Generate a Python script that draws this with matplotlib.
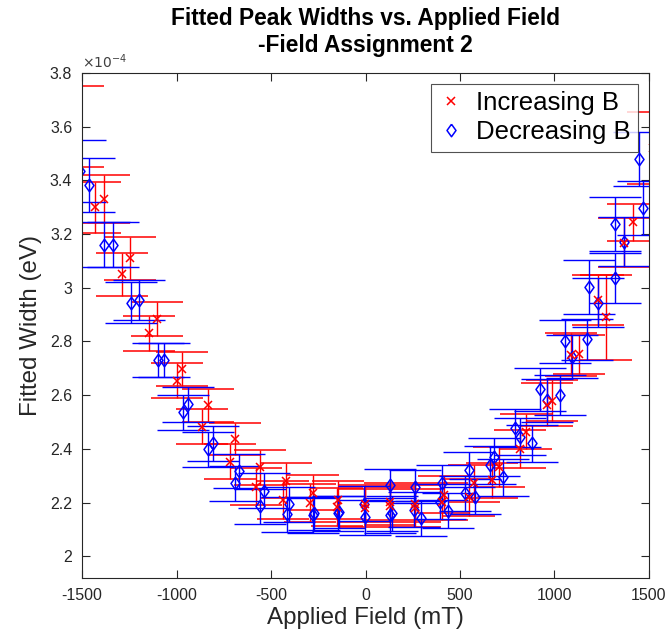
import numpy as np
import matplotlib.pyplot as plt
from matplotlib.lines import Line2D
from matplotlib.ticker import FuncFormatter

plt.rcParams['font.family'] = ['Liberation Sans', 'DejaVu Sans']
plt.rcParams['axes.unicode_minus'] = False

# Increasing B (width in units of 1e-4 eV)
inc_field = [-1520, -1432, -1384, -1289, -1247, -1145, -1104, -1000, -972, -865, -831,
             -717, -690, -581, -560, -437, -419, -296, -278, -153, -146, -5, -5,
             132, 132, 264, 264, 405, 414, 546, 572, 669, 704, 819, 851, 960, 986,
             1088, 1132, 1229, 1273, 1370, 1414, 1520]
inc_width = [3.60, 3.30, 3.33, 3.05, 3.11, 2.83, 2.885, 2.654, 2.698, 2.483, 2.562,
             2.353, 2.437, 2.26, 2.332, 2.21, 2.281, 2.20, 2.237, 2.183, 2.21, 2.18, 2.197,
             2.188, 2.204, 2.18, 2.197, 2.204, 2.23, 2.22, 2.272, 2.284, 2.334, 2.40, 2.464,
             2.564, 2.58, 2.75, 2.752, 2.955, 2.89, 3.168, 3.243, 3.52]
inc_err = [0.15, 0.095, 0.09, 0.08, 0.08, 0.065, 0.063, 0.065, 0.062, 0.065, 0.06,
           0.065, 0.06, 0.07, 0.065, 0.07, 0.065, 0.07, 0.065, 0.07, 0.07, 0.07, 0.07,
           0.07, 0.07, 0.07, 0.07, 0.07, 0.07, 0.07, 0.07, 0.065, 0.075, 0.07, 0.065,
           0.08, 0.075, 0.08, 0.072, 0.093, 0.158, 0.09, 0.068, 0.135]

# Decreasing B
dec_field = [-1510, -1465, -1382, -1335, -1241, -1197, -1100, -1065, -968, -939, -831,
             -805, -690, -669, -558, -537, -417, -405, -278, -270, -146, -140, -9, -5,
             132, 132, 140, 255, 264, 291, 393, 405, 435, 528, 546, 581, 657, 678, 727,
             792, 819, 880, 921, 960, 1027, 1053, 1092, 1171, 1185, 1229, 1321, 1321,
             1370, 1449, 1470]
dec_width = [3.435, 3.383, 3.16, 3.16, 2.945, 2.955, 2.731, 2.731, 2.536, 2.567, 2.399,
             2.421, 2.272, 2.318, 2.187, 2.244, 2.157, 2.194, 2.154, 2.16, 2.16, 2.165,
             2.197, 2.145, 2.266, 2.154, 2.16, 2.173, 2.26, 2.142, 2.204, 2.274, 2.17,
             2.235, 2.322, 2.222, 2.34, 2.371, 2.294, 2.477, 2.446, 2.421, 2.622, 2.582,
             2.60, 2.80, 2.744, 2.808, 3.004, 2.945, 3.035, 3.238, 3.172, 3.479, 3.296]
dec_err = [0.115, 0.1, 0.083, 0.083, 0.075, 0.075, 0.063, 0.063, 0.065, 0.065, 0.065,
           0.065, 0.065, 0.065, 0.065, 0.065, 0.065, 0.065, 0.065, 0.06, 0.065, 0.06,
           0.065, 0.065, 0.06, 0.065, 0.065, 0.065, 0.06, 0.065, 0.065, 0.065, 0.065,
           0.065, 0.065, 0.065, 0.07, 0.07, 0.07, 0.07, 0.07, 0.07, 0.08, 0.08,
           0.075, 0.08, 0.08, 0.077, 0.1, 0.09, 0.093, 0.1, 0.09, 0.1, 0.1]

x_ticks = [-1500, -1000, -500, 0, 500, 1000, 1500]
y_ticks = [2, 2.2, 2.4, 2.6, 2.8, 3, 3.2, 3.4, 3.6, 3.8]

# matlab-style diamond, taller than wide
diamond = [(0, 1), (0.72, 0), (0, -1), (-0.72, 0), (0, 1)]

fig = plt.figure(figsize=(6.67, 6.33), dpi=100)
ax = fig.add_axes([0.123, 0.087, 0.850, 0.798])

ax.errorbar(inc_field, inc_width, yerr=inc_err, fmt='x', color='red', ecolor='red',
            elinewidth=1, capsize=19, capthick=1, markersize=6, mew=1.1)
ax.errorbar(dec_field, dec_width, yerr=dec_err, fmt='none', ecolor='blue',
            elinewidth=1, capsize=19, capthick=1)
ax.plot(dec_field, dec_width, ls='none', marker=diamond, color='blue', mfc='none',
        markersize=9, mew=1.1)

ax.set_xlim(-1500, 1500)
ax.set_ylim(1.92, 3.8)
ax.set_xticks(x_ticks)
ax.set_yticks(y_ticks)
ax.yaxis.set_major_formatter(FuncFormatter(lambda v, p: '%g' % round(v, 2)))
ax.tick_params(direction='in', top=True, right=True, length=6, width=0.8,
               labelsize=11.5, colors='#262626', pad=7)
for s in ax.spines.values():
    s.set_color('#262626')
    s.set_linewidth(0.8)

ax.text(0.0, 1.003, r'$\times10^{-4}$', transform=ax.transAxes, fontsize=10,
        color='#404040', va='bottom', ha='left')

ax.set_xlabel('Applied Field (mT)', fontsize=17.4, color='#262626', labelpad=3)
ax.set_ylabel('Fitted Width (eV)', fontsize=17.4, color='#262626', labelpad=6)
ax.set_title('Fitted Peak Widths vs. Applied Field\n-Field Assignment 2',
             fontsize=16.4, fontweight='bold', pad=15, linespacing=1.2)

handles = [Line2D([], [], ls='none', marker='x', color='red', markersize=6, mew=1.1),
           Line2D([], [], ls='none', marker=diamond, color='blue', mfc='none',
                  markersize=9, mew=1.1)]
leg = ax.legend(handles, ['Increasing B', 'Decreasing B'], loc='upper right',
                fontsize=18.5, fancybox=False, edgecolor='#262626',
                borderaxespad=0.42, handlelength=1.0, handletextpad=0.45,
                borderpad=0.3, labelspacing=0.18)
leg.get_frame().set_linewidth(0.8)

fig.savefig('out.png', dpi=100)
